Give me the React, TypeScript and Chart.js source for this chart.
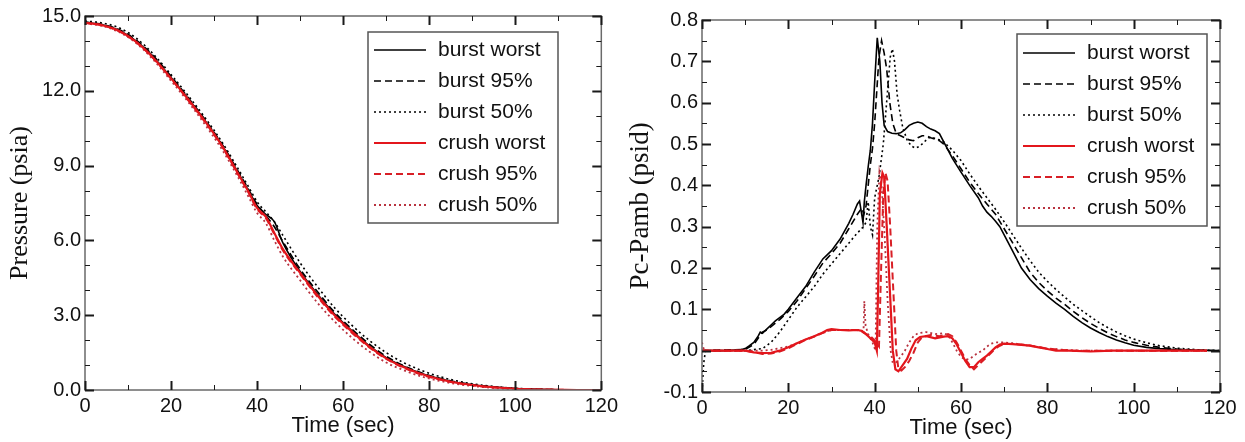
import React, { useEffect, useRef } from 'react';
import { Chart, registerables } from 'chart.js';

Chart.register(...registerables);

const SANS = '"Liberation Sans", Arial, sans-serif';
const SERIF = '"Liberation Serif", "Times New Roman", serif';

// ---------- shared ----------
const seriesLabels = ['burst worst', 'burst 95%', 'burst 50%', 'crush worst', 'crush 95%', 'crush 50%'];
const timeMajorTicks = [0, 20, 40, 60, 80, 100, 120];

// ---------- left chart: Pressure (psia) ----------
const pressureLabelTicks = [0, 3, 6, 9, 12, 15];
const pressTime = [0, 4, 8, 12, 16, 20, 24, 28, 32, 36, 38, 40, 42, 44, 46, 50, 54, 58, 62, 66, 70, 74, 78, 82, 86, 90, 95, 100, 105, 110, 115, 120];
const burstWorstP = [14.75, 14.65, 14.42, 13.98, 13.33, 12.53, 11.68, 10.78, 9.78, 8.6, 8.0, 7.4, 7.05, 6.75, 5.9, 4.75, 3.85, 3.05, 2.38, 1.78, 1.3, 0.95, 0.67, 0.47, 0.31, 0.21, 0.12, 0.06, 0.03, 0.01, 0.0, 0.0];
const burst95P = [14.76, 14.66, 14.45, 14.02, 13.38, 12.58, 11.72, 10.82, 9.82, 8.65, 8.05, 7.45, 7.0, 6.55, 5.95, 4.85, 3.95, 3.12, 2.45, 1.85, 1.35, 0.98, 0.7, 0.49, 0.33, 0.22, 0.13, 0.06, 0.03, 0.01, 0.0, 0.0];
const burst50P = [14.8, 14.72, 14.52, 14.1, 13.45, 12.65, 11.8, 10.9, 9.9, 8.75, 8.15, 7.55, 7.15, 6.75, 6.2, 5.1, 4.15, 3.3, 2.6, 2.0, 1.5, 1.1, 0.8, 0.56, 0.38, 0.25, 0.14, 0.07, 0.03, 0.01, 0.0, 0.0];
const crushWorstP = [14.73, 14.63, 14.4, 13.95, 13.3, 12.5, 11.65, 10.75, 9.75, 8.55, 7.95, 7.3, 6.95, 6.3, 5.65, 4.7, 3.8, 3.0, 2.35, 1.75, 1.27, 0.92, 0.65, 0.45, 0.3, 0.2, 0.11, 0.05, 0.02, 0.01, 0.0, 0.0];
const crush95P = [14.72, 14.62, 14.38, 13.93, 13.28, 12.48, 11.62, 10.72, 9.72, 8.52, 7.92, 7.25, 6.9, 6.25, 5.6, 4.65, 3.75, 2.95, 2.3, 1.72, 1.25, 0.9, 0.63, 0.44, 0.29, 0.19, 0.1, 0.05, 0.02, 0.01, 0.0, 0.0];
const crush50P = [14.7, 14.6, 14.35, 13.9, 13.22, 12.4, 11.55, 10.62, 9.6, 8.4, 7.75, 7.1, 6.7, 6.0, 5.35, 4.4, 3.5, 2.75, 2.1, 1.55, 1.1, 0.8, 0.55, 0.38, 0.25, 0.16, 0.08, 0.03, 0.01, 0.0, 0.0, 0.0];

// ---------- right chart: Pc-Pamb (psid) ----------
const dpLabelTicks = [-0.1, 0, 0.1, 0.2, 0.3, 0.4, 0.5, 0.6, 0.7, 0.8];
const burstWorstT = [0, 5, 9, 10, 11, 12, 13, 13.5, 14, 15, 16, 17, 18, 19, 20, 22, 24, 26, 28, 30, 32, 34, 35, 36, 36.5, 37, 37.3, 37.6, 38, 38.5, 39, 39.5, 40, 40.6, 41.2, 41.7, 42.2, 43, 44, 45, 46, 47, 48, 49, 50, 51, 52, 53, 54, 55, 56, 57, 58, 60, 62, 64, 65, 66, 67, 68, 69, 70, 72, 74, 76, 78, 80, 82, 84, 86, 88, 90, 92, 94, 96, 98, 100, 103, 106, 110, 115, 120];
const burstWorstD = [0, 0, 0.002, 0.005, 0.012, 0.02, 0.035, 0.045, 0.042, 0.052, 0.062, 0.072, 0.08, 0.088, 0.1, 0.128, 0.155, 0.19, 0.222, 0.242, 0.27, 0.308, 0.33, 0.355, 0.362, 0.33, 0.31, 0.36, 0.4, 0.445, 0.485, 0.55, 0.65, 0.757, 0.7, 0.6, 0.545, 0.53, 0.526, 0.525, 0.527, 0.535, 0.545, 0.55, 0.553, 0.55, 0.542, 0.536, 0.532, 0.525, 0.505, 0.485, 0.465, 0.432, 0.4, 0.37, 0.35, 0.335, 0.325, 0.313, 0.3, 0.28, 0.24, 0.2, 0.172, 0.15, 0.132, 0.115, 0.1, 0.083, 0.068, 0.055, 0.044, 0.034, 0.026, 0.019, 0.013, 0.008, 0.005, 0.002, 0.001, 0];
const burst95T = [0, 10, 12, 13, 14, 15, 16, 18, 20, 22, 24, 26, 28, 30, 32, 34, 36, 37, 37.5, 38, 38.5, 39, 39.5, 40, 40.5, 41, 41.6, 42.2, 42.8, 43.5, 44.2, 45, 46, 47, 48, 49, 50, 51, 52, 53, 54, 55, 56, 58, 60, 62, 64, 66, 68, 70, 72, 74, 76, 78, 80, 82, 84, 86, 88, 90, 92, 94, 96, 98, 100, 103, 106, 110, 115, 120];
const burst95D = [0, 0.003, 0.015, 0.03, 0.045, 0.05, 0.058, 0.075, 0.095, 0.12, 0.15, 0.18, 0.212, 0.235, 0.26, 0.295, 0.33, 0.345, 0.33, 0.35, 0.4, 0.45, 0.49, 0.55, 0.63, 0.71, 0.75, 0.72, 0.68, 0.6, 0.55, 0.525, 0.52, 0.515, 0.51, 0.508, 0.515, 0.52, 0.52, 0.515, 0.512, 0.508, 0.5, 0.472, 0.44, 0.408, 0.38, 0.355, 0.33, 0.295, 0.26, 0.225, 0.19, 0.165, 0.145, 0.127, 0.112, 0.095, 0.08, 0.066, 0.054, 0.043, 0.034, 0.026, 0.02, 0.013, 0.008, 0.004, 0.001, 0];
const burst50T = [0, 0.4, 0.8, 10, 14, 16, 18, 20, 22, 24, 26, 28, 30, 32, 34, 36, 37, 38, 38.5, 39, 39.5, 40, 41, 42, 43, 43.6, 44.1, 44.6, 45.2, 45.8, 46.5, 47.5, 48.5, 49.5, 50.5, 51.5, 52.5, 53.5, 55, 56, 58, 60, 62, 64, 66, 68, 70, 72, 74, 76, 78, 80, 82, 84, 86, 88, 90, 92, 94, 96, 98, 100, 103, 106, 110, 115, 120];
const burst50D = [-0.1, -0.03, 0, 0, 0.005, 0.02, 0.045, 0.075, 0.105, 0.13, 0.155, 0.185, 0.21, 0.235, 0.26, 0.285, 0.295, 0.31, 0.36, 0.3, 0.28, 0.37, 0.42, 0.5, 0.63, 0.71, 0.73, 0.7, 0.62, 0.58, 0.54, 0.51, 0.495, 0.49, 0.495, 0.505, 0.515, 0.515, 0.51, 0.505, 0.485, 0.46, 0.428, 0.398, 0.37, 0.342, 0.312, 0.28, 0.248, 0.218, 0.19, 0.168, 0.148, 0.13, 0.112, 0.097, 0.082, 0.068, 0.056, 0.045, 0.036, 0.028, 0.019, 0.012, 0.006, 0.002, 0];
const crushWorstT = [0, 10, 12, 14, 16, 18, 20, 22, 24, 26, 28, 29, 30, 32, 34, 36, 37, 38, 39, 40, 40.5, 40.8, 41.2, 41.8, 42.2, 42.8, 43.5, 44.2, 44.8, 45.5, 46.5, 47.5, 48.5, 49.5, 50.5, 52, 54, 56, 57, 58, 59, 60, 61, 62, 63, 64, 65, 66, 67, 68, 69, 70, 72, 74, 76, 78, 80, 82, 85, 90, 95, 100, 105, 110, 117];
const crushWorstD = [0, 0, -0.004, -0.006, -0.005, 0, 0.008, 0.018, 0.027, 0.035, 0.044, 0.05, 0.052, 0.05, 0.049, 0.05, 0.048, 0.04, 0.03, 0.02, 0.0, 0.15, 0.38, 0.43, 0.42, 0.3, 0.15, 0.0, -0.045, -0.05, -0.035, -0.02, 0.005, 0.025, 0.033, 0.035, 0.03, 0.034, 0.035, 0.03, 0.015, -0.005, -0.025, -0.04, -0.04, -0.028, -0.02, -0.012, -0.002, 0.008, 0.015, 0.017, 0.016, 0.014, 0.012, 0.008, 0.004, 0, 0, -0.002, 0, 0, 0, 0, 0];
const crush95T = [0, 10, 12, 14, 16, 18, 20, 22, 24, 26, 28, 30, 32, 34, 36, 37, 38, 39, 40, 41, 41.5, 42, 42.5, 43, 43.6, 44.3, 45, 45.5, 46.2, 47, 48, 49, 50, 51, 53, 55, 57, 58, 59, 60, 61, 62, 63, 64, 65, 66, 67, 68, 69, 70, 72, 75, 78, 80, 83, 86, 95, 105, 117];
const crush95D = [0, 0, -0.004, -0.008, -0.007, -0.002, 0.006, 0.016, 0.026, 0.034, 0.043, 0.05, 0.05, 0.05, 0.05, 0.047, 0.04, 0.035, 0.025, 0.01, 0.2, 0.38, 0.43, 0.41, 0.3, 0.15, 0.0, -0.045, -0.048, -0.04, -0.025, -0.005, 0.02, 0.033, 0.038, 0.035, 0.04, 0.035, 0.02, 0.0, -0.02, -0.035, -0.045, -0.035, -0.025, -0.015, -0.005, 0.005, 0.012, 0.016, 0.016, 0.014, 0.009, 0.005, 0.002, 0, 0, 0, 0];
const crush50T = [0, 0.5, 10, 14, 16, 18, 20, 22, 24, 26, 28, 30, 32, 34, 36, 37, 37.4, 37.6, 37.9, 38.5, 39.5, 40.2, 40.6, 41.1, 41.6, 42.3, 43, 43.7, 44.2, 45, 46, 47, 48, 49, 50, 52, 54, 56, 57, 58, 59, 60, 61, 62, 63, 64, 65, 66, 67, 68, 70, 72, 75, 78, 80, 84, 88, 100, 117];
const crush50D = [0.02, 0, 0, 0, 0.002, 0.006, 0.01, 0.018, 0.027, 0.035, 0.044, 0.05, 0.05, 0.05, 0.05, 0.05, 0.04, 0.12, 0.06, 0.04, 0.02, 0.0, 0.3, 0.43, 0.4, 0.28, 0.12, 0.0, -0.03, -0.028, -0.015, 0.0, 0.02, 0.035, 0.042, 0.045, 0.04, 0.042, 0.038, 0.02, 0.0, -0.015, -0.022, -0.02, -0.012, -0.005, 0.0, 0.01, 0.017, 0.02, 0.02, 0.018, 0.013, 0.008, 0.005, 0.002, 0, 0, 0];

// ---------- styles ----------
const seriesStyles = [
  { color: '#000000', width: 1.6, dash: [] as number[], order: 1 },
  { color: '#000000', width: 1.6, dash: [7, 4], order: 1 },
  { color: '#000000', width: 1.6, dash: [2, 3], order: 1 },
  { color: '#e3161c', width: 2.2, dash: [] as number[], order: 0 },
  { color: '#d81f26', width: 2.0, dash: [7, 4], order: 0 },
  { color: '#b8323f', width: 1.8, dash: [2, 3], order: 0 },
];

const pts = (xs: number[], ys: number[]) => xs.map((x, i) => ({ x, y: ys[i] }));

function makeDatasets(series: { x: number[]; y: number[] }[], smooth: boolean) {
  return series.map((s, i) => ({
    label: seriesLabels[i],
    data: pts(s.x, s.y),
    borderColor: seriesStyles[i].color,
    borderWidth: seriesStyles[i].width,
    borderDash: seriesStyles[i].dash,
    order: seriesStyles[i].order,
    pointRadius: 0,
    fill: false,
    tension: 0,
    cubicInterpolationMode: smooth ? 'monotone' : 'default',
  }));
}

const inList = (list: number[], v: number) => list.some((t) => Math.abs(t - v) < 1e-6);

// inward tick marks on all four sides + frame
const frameTicks = {
  id: 'frameTicks',
  afterDatasetsDraw(chart: any) {
    const { ctx, chartArea: a, scales } = chart;
    const xs = scales.x;
    const ys = scales.y;
    ctx.save();
    ctx.strokeStyle = '#6a6a6a';
    ctx.lineWidth = 1.5;
    ctx.strokeRect(a.left, a.top, a.right - a.left, a.bottom - a.top);
    ctx.strokeStyle = '#1a1a1a';
    xs.ticks.forEach((t: any) => {
      const px = Math.round(xs.getPixelForValue(t.value)) + 0.5;
      const major = !!t.label;
      const len = major ? 9 : 5;
      ctx.lineWidth = major ? 2 : 1;
      ctx.beginPath();
      ctx.moveTo(px, a.bottom);
      ctx.lineTo(px, a.bottom - len);
      ctx.moveTo(px, a.top);
      ctx.lineTo(px, a.top + len);
      ctx.stroke();
    });
    ys.ticks.forEach((t: any) => {
      const py = Math.round(ys.getPixelForValue(t.value)) + 0.5;
      const major = !!t.label;
      const len = major ? 9 : 5;
      ctx.lineWidth = major ? 2 : 1;
      ctx.beginPath();
      ctx.moveTo(a.left, py);
      ctx.lineTo(a.left + len, py);
      ctx.moveTo(a.right, py);
      ctx.lineTo(a.right - len, py);
      ctx.stroke();
    });
    ctx.restore();
  },
};

// boxed legend inside the plot
const boxLegend = {
  id: 'boxLegend',
  afterDraw(chart: any, _args: any, opts: any) {
    const { ctx, chartArea: a } = chart;
    const x0 = a.left + opts.dx;
    const y0 = a.top + opts.dy;
    ctx.save();
    ctx.fillStyle = '#ffffff';
    ctx.fillRect(x0, y0, opts.width, opts.height);
    ctx.strokeStyle = '#555555';
    ctx.lineWidth = 1.5;
    ctx.strokeRect(x0, y0, opts.width, opts.height);
    chart.data.datasets.forEach((ds: any, i: number) => {
      const cy = y0 + opts.firstRow + i * opts.rowGap;
      ctx.strokeStyle = ds.borderColor;
      ctx.lineWidth = ds.borderWidth;
      ctx.setLineDash(ds.borderDash || []);
      ctx.beginPath();
      ctx.moveTo(x0 + 6, cy);
      ctx.lineTo(x0 + 58, cy);
      ctx.stroke();
      ctx.setLineDash([]);
      ctx.fillStyle = '#111111';
      ctx.font = `21px ${SANS}`;
      ctx.textAlign = 'left';
      ctx.textBaseline = 'middle';
      ctx.fillText(ds.label, x0 + 70, cy);
    });
    ctx.restore();
  },
};

function buildConfig(p: any) {
  return {
    type: 'line',
    data: { datasets: p.datasets },
    plugins: [frameTicks, boxLegend],
    options: {
      animation: false,
      responsive: false,
      devicePixelRatio: 1,
      events: [],
      layout: { padding: p.padding },
      plugins: {
        legend: { display: false },
        tooltip: { enabled: false },
        boxLegend: p.legend,
      },
      scales: {
        x: {
          type: 'linear',
          min: 0,
          max: 120,
          afterFit: (s: any) => { s.height = p.xHeight; },
          grid: { display: false, drawTicks: false },
          border: { display: false },
          ticks: {
            stepSize: 10,
            autoSkip: false,
            maxRotation: 0,
            padding: 4,
            color: '#111',
            font: { family: SANS, size: 20 },
            callback: (v: number) => (inList(timeMajorTicks, v) ? String(Math.round(v)) : ''),
          },
          title: {
            display: true,
            text: 'Time (sec)',
            color: '#111',
            font: { family: SANS, size: 22 },
            padding: { top: 0, bottom: p.xTitlePad },
          },
        },
        y: {
          type: 'linear',
          min: p.yMin,
          max: p.yMax,
          afterFit: (s: any) => { s.width = p.yWidth; },
          grid: { display: false, drawTicks: false },
          border: { display: false },
          ticks: {
            stepSize: p.yStep,
            autoSkip: false,
            padding: 4,
            color: '#111',
            font: { family: SANS, size: 20 },
            callback: (v: number) => (inList(p.yLabels, v) ? (Math.abs(v) < 1e-9 ? 0 : v).toFixed(1) : ''),
          },
          title: {
            display: true,
            text: p.yTitle,
            color: '#111',
            font: { family: SERIF, size: p.yTitleSize },
            padding: { top: p.yTitlePad, bottom: 0 },
          },
        },
      },
    },
  };
}

const leftConfig = () =>
  buildConfig({
    datasets: makeDatasets(
      [
        { x: pressTime, y: burstWorstP },
        { x: pressTime, y: burst95P },
        { x: pressTime, y: burst50P },
        { x: pressTime, y: crushWorstP },
        { x: pressTime, y: crush95P },
        { x: pressTime, y: crush50P },
      ],
      true
    ),
    padding: { left: 0, top: 16, right: 19, bottom: 0 },
    xHeight: 52,
    yWidth: 85,
    xTitlePad: 3,
    yMin: 0,
    yMax: 15,
    yStep: 1,
    yLabels: pressureLabelTicks,
    yTitle: 'Pressure (psia)',
    yTitleSize: 26,
    yTitlePad: 5,
    legend: { dx: 283, dy: 16, width: 190, height: 191, firstRow: 18, rowGap: 31 },
  });

const rightConfig = () =>
  buildConfig({
    datasets: makeDatasets(
      [
        { x: burstWorstT, y: burstWorstD },
        { x: burst95T, y: burst95D },
        { x: burst50T, y: burst50D },
        { x: crushWorstT, y: crushWorstD },
        { x: crush95T, y: crush95D },
        { x: crush50T, y: crush50D },
      ],
      false
    ),
    padding: { left: 0, top: 20, right: 25, bottom: 0 },
    xHeight: 50,
    yWidth: 80,
    xTitlePad: 1,
    yMin: -0.1,
    yMax: 0.8,
    yStep: 0.05,
    yLabels: dpLabelTicks,
    yTitle: 'Pc-Pamb (psid)',
    yTitleSize: 27,
    yTitlePad: 3,
    legend: { dx: 315, dy: 14, width: 190, height: 192, firstRow: 19, rowGap: 31 },
  });

function ChartCanvas({ make, left, width }: { make: () => any; left: number; width: number }) {
  const ref = useRef<HTMLCanvasElement | null>(null);
  useEffect(() => {
    if (!ref.current) return;
    const chart = new Chart(ref.current, make());
    return () => chart.destroy();
  }, []);
  return (
    <canvas
      ref={ref}
      width={width}
      height={442}
      style={{ position: 'absolute', left, top: 0, width, height: 442 }}
    />
  );
}

export default function App() {
  return (
    <div style={{ position: 'fixed', left: 0, top: 0, width: 1245, height: 442, background: '#ffffff', overflow: 'hidden' }}>
      <ChartCanvas make={leftConfig} left={0} width={622} />
      <ChartCanvas make={rightConfig} left={622} width={623} />
    </div>
  );
}
